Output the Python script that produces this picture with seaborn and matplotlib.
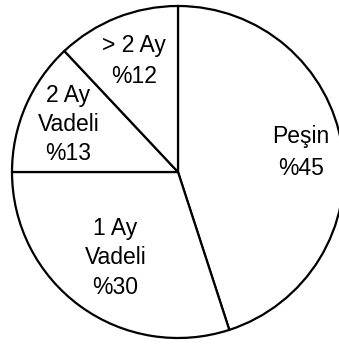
import numpy as np
import matplotlib
matplotlib.use('Agg')
import matplotlib.pyplot as plt
import seaborn as sns

# payment terms share
labels = ['Peşin', '1 Ay\nVadeli', '2 Ay\nVadeli', '> 2 Ay']
shares = [45, 30, 13, 12]
pct_labels = ['%45', '%30', '%13', '%12']

sns.set_theme(style='white')
plt.rcParams['font.family'] = ['Liberation Sans', 'DejaVu Sans']

fig = plt.figure(figsize=(3.39, 3.45), dpi=100)
ax = fig.add_axes([0, 0, 1, 1])

wedges, _ = ax.pie(shares, startangle=90, counterclock=False,
                   colors=['white'] * len(shares),
                   wedgeprops=dict(edgecolor='black', linewidth=1.6))

# label distance from centre for each slice (fraction of radius)
dists = [0.75, 0.64, 0.72, 0.72]
spacing = [1.5, 1.35, 1.35, 1.45]
for w, lab, pct, d, ls in zip(wedges, labels, pct_labels, dists, spacing):
    mid = np.deg2rad((w.theta1 + w.theta2) / 2)
    ax.text(d * np.cos(mid), d * np.sin(mid), lab + '\n' + pct,
            ha='center', va='center', fontsize=16.5, linespacing=ls,
            color='black')

ax.set_aspect('auto')
ax.set_xlim(-178 / 166, (339 - 178) / 166)
ax.set_ylim(-(345 - 172) / 166, 172 / 166)
ax.axis('off')

fig.savefig('out.png', dpi=100, facecolor='white')
